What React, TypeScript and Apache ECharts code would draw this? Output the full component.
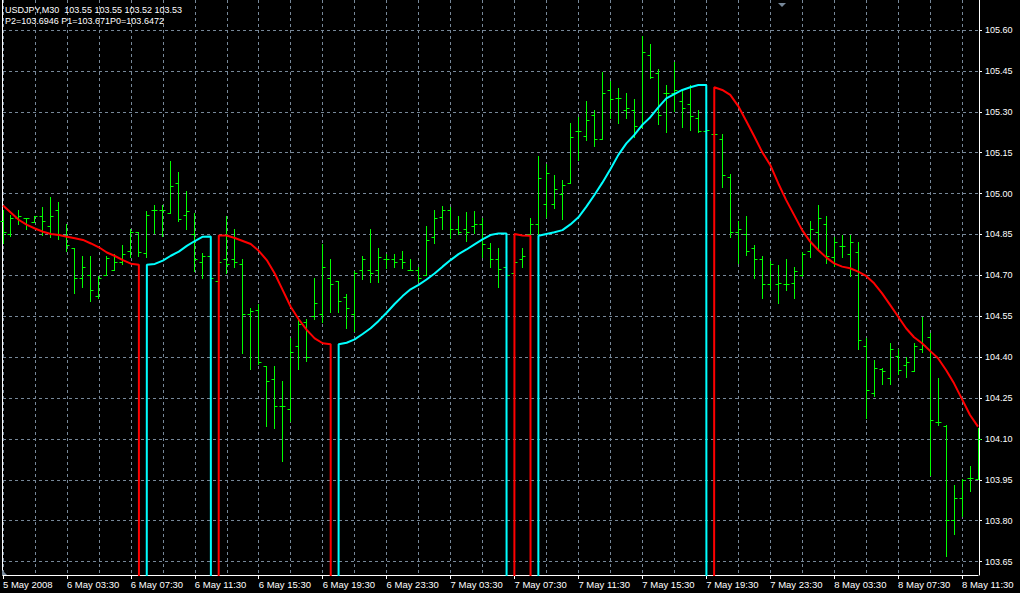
import React, { useEffect, useRef } from "react";
import * as echarts from "echarts";

// ---- time categories (M30 bars, first bar 5 May 2008 23:30) ----
const BAR_COUNT = 123;
const START_UTC = Date.UTC(2008, 4, 5, 23, 30);
const pad = (n: number) => (n < 10 ? "0" + n : "" + n);
const categories: string[] = Array.from({ length: BAR_COUNT }, (_, i) => {
  const d = new Date(START_UTC + i * 30 * 60000);
  return `${d.getUTCDate()} May ${pad(d.getUTCHours())}:${pad(d.getUTCMinutes())}`;
});

// x-axis tick labels, one every 8 bars
const tickLabels = [
  "5 May 2008", "6 May 03:30", "6 May 07:30", "6 May 11:30", "6 May 15:30", "6 May 19:30",
  "6 May 23:30", "7 May 03:30", "7 May 07:30", "7 May 11:30", "7 May 15:30", "7 May 19:30",
  "7 May 23:30", "8 May 03:30", "8 May 07:30", "8 May 11:30",
];

// ---- OHLC ----
const opens = [
  104.90, 104.85, 104.91, 104.909, 104.897, 104.918, 104.88, 104.94, 104.848, 104.80,
  104.692, 104.70, 104.625, 104.70, 104.72, 104.75, 104.79, 104.858, 104.782, 104.94,
  104.939, 104.93, 105.04, 104.92, 104.85, 104.748, 104.77, 104.678, 104.76, 104.76,
  104.74, 104.56, 104.574, 104.369, 104.32, 104.22, 104.21, 104.44, 104.53, 104.55,
  104.56, 104.69, 104.679, 104.62, 104.56, 104.72, 104.72, 104.72, 104.759, 104.759,
  104.759, 104.72, 104.72, 104.70, 104.84, 104.915, 104.94, 104.87, 104.87, 104.88,
  104.89, 104.80, 104.76, 104.73, 104.71, 104.76, 104.85, 104.89, 104.96, 104.96,
  105.00, 105.038, 105.23, 105.21, 105.288, 105.20, 105.38, 105.35, 105.307, 105.307,
  105.245, 105.508, 105.443, 105.37, 105.37, 105.339, 105.327, 105.276, 105.23, 105.22,
  105.20, 105.06, 104.86, 104.85, 104.80, 104.76, 104.667, 104.67, 104.67, 104.671,
  104.70, 104.79, 104.86, 104.888, 104.769, 104.809, 104.78, 104.787, 104.44, 104.268,
  104.356, 104.325, 104.405, 104.372, 104.35, 104.43, 104.475, 104.164, 104.148, 103.803,
  103.882, 103.955, 103.952,
];
const highs = [
  104.94, 104.921, 104.94, 104.909, 104.918, 104.95, 104.986, 104.969, 104.888, 104.802,
  104.771, 104.771, 104.698, 104.771, 104.777, 104.81, 104.869, 104.859, 104.936, 104.958,
  104.958, 105.119, 105.078, 105.009, 104.927, 104.781, 104.79, 104.76, 104.918, 104.87,
  104.76, 104.581, 104.594, 104.369, 104.369, 104.312, 104.469, 104.539, 104.539, 104.69,
  104.814, 104.76, 104.679, 104.63, 104.716, 104.771, 104.87, 104.799, 104.777, 104.777,
  104.789, 104.759, 104.729, 104.881, 104.938, 104.955, 104.951, 104.919, 104.931, 104.936,
  104.909, 104.82, 104.799, 104.74, 104.78, 104.799, 104.909, 105.138, 105.107, 105.067,
  105.05, 105.258, 105.282, 105.34, 105.307, 105.447, 105.413, 105.389, 105.368, 105.346,
  105.578, 105.549, 105.456, 105.398, 105.484, 105.376, 105.398, 105.307, 105.30, 105.25,
  105.219, 105.07, 104.90, 104.918, 104.811, 104.771, 104.753, 104.738, 104.76, 104.732,
  104.787, 104.90, 104.958, 104.918, 104.84, 104.849, 104.849, 104.821, 104.469, 104.39,
  104.359, 104.453, 104.429, 104.40, 104.453, 104.549, 104.49, 104.322, 104.151, 103.931,
  103.953, 104.002, 104.139,
];
const lows = [
  104.817, 104.846, 104.887, 104.869, 104.897, 104.848, 104.839, 104.832, 104.788, 104.637,
  104.659, 104.607, 104.616, 104.70, 104.718, 104.74, 104.769, 104.771, 104.769, 104.857,
  104.846, 104.93, 104.90, 104.869, 104.717, 104.689, 104.68, 104.665, 104.708, 104.729,
  104.417, 104.356, 104.375, 104.149, 104.139, 104.02, 104.167, 104.356, 104.387, 104.539,
  104.528, 104.567, 104.566, 104.508, 104.497, 104.688, 104.677, 104.677, 104.726, 104.729,
  104.728, 104.72, 104.679, 104.70, 104.82, 104.869, 104.838, 104.852, 104.827, 104.856,
  104.768, 104.73, 104.659, 104.66, 104.69, 104.73, 104.842, 104.852, 104.915, 104.948,
  104.906, 105.038, 105.123, 105.197, 105.176, 105.20, 105.278, 105.258, 105.276, 105.206,
  105.245, 105.425, 105.254, 105.227, 105.303, 105.245, 105.233, 105.227, 105.20, 105.18,
  105.025, 104.84, 104.747, 104.775, 104.689, 104.618, 104.65, 104.599, 104.646, 104.618,
  104.699, 104.769, 104.795, 104.747, 104.736, 104.769, 104.697, 104.429, 104.176, 104.259,
  104.30, 104.30, 104.338, 104.326, 104.35, 104.418, 103.968, 104.151, 103.672, 103.75,
  103.819, 103.91, 103.952,
];
const closes = [
  104.859, 104.91, 104.918, 104.909, 104.918, 104.90, 104.917, 104.848, 104.81, 104.692,
  104.729, 104.648, 104.692, 104.765, 104.75, 104.78, 104.858, 104.787, 104.92, 104.94,
  104.94, 105.028, 104.907, 104.937, 104.76, 104.77, 104.69, 104.748, 104.74, 104.748,
  104.56, 104.57, 104.381, 104.312, 104.22, 104.22, 104.418, 104.52, 104.40, 104.597,
  104.729, 104.667, 104.607, 104.58, 104.71, 104.759, 104.707, 104.768, 104.759, 104.748,
  104.748, 104.72, 104.689, 104.83, 104.909, 104.94, 104.87, 104.86, 104.86, 104.89,
  104.814, 104.76, 104.722, 104.70, 104.75, 104.77, 104.887, 105.058, 105.077, 105.018,
  105.032, 105.206, 105.23, 105.27, 105.20, 105.37, 105.347, 105.352, 105.315, 105.248,
  105.519, 105.429, 105.288, 105.37, 105.38, 105.315, 105.285, 105.23, 105.233, 105.218,
  105.067, 104.86, 104.869, 104.789, 104.76, 104.667, 104.742, 104.671, 104.67, 104.717,
  104.777, 104.869, 104.91, 104.77, 104.821, 104.809, 104.821, 104.463, 104.28, 104.359,
  104.35, 104.429, 104.353, 104.381, 104.44, 104.443, 104.171, 104.161, 103.803, 103.882,
  103.951, 103.955, 104.10,
];

// ---- indicator buffers (segments; 0 elsewhere, as the MT4 buffer) ----
const redStarts = [0, 27, 64, 89];
const redValues = [
  [104.956, 104.93, 104.903, 104.885, 104.872, 104.86, 104.852, 104.848, 104.842, 104.836,
    104.83, 104.817, 104.803, 104.784, 104.771, 104.756, 104.743, 104.739],
  [104.846, 104.846, 104.837, 104.826, 104.815, 104.79, 104.756, 104.707, 104.646, 104.585,
    104.539, 104.5, 104.469, 104.451, 104.447],
  [104.852, 104.846, 104.845],
  [105.39, 105.38, 105.362, 105.321, 105.266, 105.21, 105.152, 105.105, 105.038, 104.976,
    104.921, 104.866, 104.824, 104.793, 104.766, 104.744, 104.732, 104.726, 104.714, 104.698,
    104.671, 104.634, 104.592, 104.549, 104.506, 104.473, 104.451, 104.423, 104.396, 104.353,
    104.304, 104.246, 104.188, 104.145],
];
const cyanStarts = [18, 42, 67];
const cyanValues = [
  [104.739, 104.742, 104.754, 104.772, 104.787, 104.808, 104.826, 104.842, 104.843],
  [104.447, 104.453, 104.465, 104.485, 104.506, 104.533, 104.563, 104.595, 104.624, 104.649,
    104.665, 104.685, 104.707, 104.732, 104.756, 104.778, 104.795, 104.814, 104.832, 104.848,
    104.854, 104.854],
  [104.845, 104.852, 104.858, 104.866, 104.887, 104.913, 104.952, 104.995, 105.04, 105.089,
    105.142, 105.184, 105.215, 105.252, 105.28, 105.316, 105.349, 105.365, 105.38, 105.39,
    105.398, 105.398],
];

const PRICE_MIN = 103.601;
const PRICE_MAX = 105.71;
const PRICE_STEP = 0.15;

const headerLine1 = "USDJPY,M30  103.55 103.55 103.52 103.53";
const headerLine2 = "P2=103.6946 P1=103.671P0=103.6472";

function buildBuffer(starts: number[], values: number[][]): number[] {
  const buf: number[] = new Array(BAR_COUNT).fill(0);
  starts.forEach((s, k) => values[k].forEach((v, j) => { buf[s + j] = v; }));
  return buf;
}

const FONT = "'Liberation Sans', Arial, sans-serif";
const GRID_COLOR = "#778899";

export default function App() {
  const ref = useRef<HTMLDivElement>(null);
  useEffect(() => {
    if (!ref.current) return;
    const chart = echarts.init(ref.current, undefined, { renderer: "svg" });
    const ohlc = categories.map((_, i) => [i, opens[i], highs[i], lows[i], closes[i]]);
    const redData = buildBuffer(redStarts, redValues);
    const cyanData = buildBuffer(cyanStarts, cyanValues);

    chart.setOption({
      animation: false,
      backgroundColor: "#000000",
      grid: { left: 2, right: 42, top: 0, bottom: 18, containLabel: false },
      xAxis: {
        type: "category",
        data: categories,
        boundaryGap: false,
        axisLine: { show: true, lineStyle: { color: "#ffffff", width: 1 } },
        axisTick: { show: true, interval: 7, length: 4, lineStyle: { color: "#ffffff" } },
        axisLabel: {
          interval: 7,
          color: "#ffffff",
          fontFamily: FONT,
          fontSize: 9.5,
          align: "left",
          verticalAlign: "middle",
          margin: 9,
          formatter: (_v: string, idx: number) => tickLabels[idx / 8] ?? "",
        },
        splitLine: {
          show: true,
          interval: 3,
          lineStyle: { color: GRID_COLOR, type: [3, 3], width: 1 },
        },
      },
      yAxis: [
        {
          type: "value",
          position: "right",
          offset: 1,
          min: PRICE_MIN,
          max: PRICE_MAX,
          minInterval: PRICE_STEP,
          maxInterval: PRICE_STEP,
          splitNumber: 14,
          scale: true,
          axisLine: { show: true, lineStyle: { color: "#ffffff", width: 1 } },
          axisTick: { show: true, length: 3, inside: false, lineStyle: { color: "#ffffff" } },
          axisLabel: {
            color: "#ffffff",
            fontFamily: FONT,
            fontSize: 9,
            margin: 6,
            showMinLabel: false,
            showMaxLabel: false,
            formatter: (v: number) => v.toFixed(2),
          },
          splitLine: {
            show: true,
            showMinLine: false,
            showMaxLine: false,
            lineStyle: { color: GRID_COLOR, type: [3, 3], width: 1 },
          },
        },
        {
          type: "value",
          position: "left",
          offset: 1,
          min: PRICE_MIN,
          max: PRICE_MAX,
          axisLine: { show: true, onZero: false, lineStyle: { color: "#ffffff", width: 1 } },
          axisTick: { show: false },
          axisLabel: { show: false },
          splitLine: { show: false },
        },
      ],
      series: [
        {
          type: "custom",
          name: "USDJPY",
          data: ohlc,
          encode: { x: 0, y: [1, 2, 3, 4] },
          z: 2,
          renderItem: (_params: any, api: any) => {
            const i = api.value(0);
            const pH = api.coord([i, api.value(2)]);
            const pL = api.coord([i, api.value(3)]);
            const pO = api.coord([i, api.value(1)]);
            const pC = api.coord([i, api.value(4)]);
            const x = Math.floor(pH[0]) + 0.5;
            const yO = Math.round(pO[1]) + 0.5;
            const yC = Math.round(pC[1]) + 0.5;
            const style = { stroke: "#00ff00", lineWidth: 1 };
            return {
              type: "group",
              children: [
                { type: "line", shape: { x1: x, y1: Math.round(pH[1]), x2: x, y2: Math.round(pL[1]) + 1 }, style },
                { type: "line", shape: { x1: x - 3, y1: yO, x2: x, y2: yO }, style },
                { type: "line", shape: { x1: x, y1: yC, x2: x + 3, y2: yC }, style },
              ],
            };
          },
        },
        {
          type: "line",
          name: "down",
          data: redData,
          symbol: "none",
          showSymbol: false,
          clip: true,
          z: 4,
          lineStyle: { color: "#ff0000", width: 2 },
          itemStyle: { color: "#ff0000" },
        },
        {
          type: "line",
          name: "up",
          data: cyanData,
          symbol: "none",
          showSymbol: false,
          clip: true,
          z: 4,
          lineStyle: { color: "#00ffff", width: 2 },
          itemStyle: { color: "#00ffff" },
        },
      ],
      graphic: [
        {
          type: "text",
          x: 5,
          y: 10,
          style: { text: headerLine1, fill: "#ffffff", font: `9px ${FONT}`, textVerticalAlign: "middle" },
          z: 10,
        },
        {
          type: "text",
          x: 5,
          y: 21,
          style: { text: headerLine2, fill: "#ffffff", font: `9px ${FONT}`, textVerticalAlign: "middle" },
          z: 10,
        },
        {
          type: "polygon",
          shape: { points: [[778, 3], [786, 3], [782, 7]] },
          style: { fill: GRID_COLOR },
          z: 10,
        },
        {
          type: "polygon",
          shape: { points: [[2, 570], [2, 575], [7, 575]] },
          style: { fill: GRID_COLOR },
          z: 10,
        },
      ],
    });
    return () => chart.dispose();
  }, []);

  return (
    <div
      ref={ref}
      style={{ position: "absolute", left: 0, top: 0, width: 1020, height: 593, background: "#000" }}
    />
  );
}
